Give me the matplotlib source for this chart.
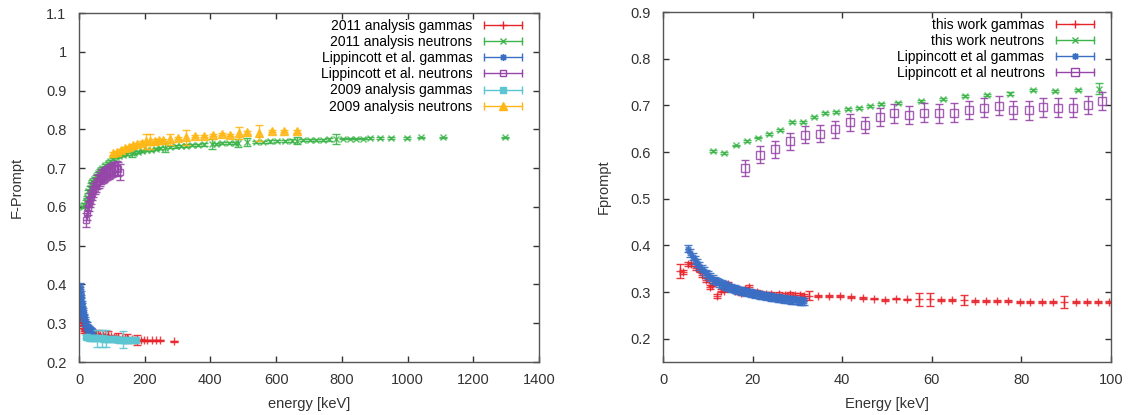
import numpy as np
import matplotlib
matplotlib.use("Agg")
import matplotlib.pyplot as plt
from matplotlib.lines import Line2D
from matplotlib.legend_handler import HandlerLine2D, HandlerTuple
from matplotlib.ticker import FuncFormatter

plt.rcParams['font.family'] = ['Liberation Sans', 'DejaVu Sans']

# ---------------- left panel data (energy [keV], F-Prompt, error) ----------------
g11_x = [1, 2, 3, 5, 8, 11, 14, 18, 22, 26, 30, 35, 40, 46, 52, 59, 65, 72, 80, 89, 96,
         105, 114, 120, 132, 141, 145, 150, 160, 170, 176, 188, 198, 208, 221, 234, 246, 289]
g11_y = [0.330, 0.339, 0.313, 0.322, 0.300, 0.292, 0.280, 0.283, 0.279, 0.277, 0.276, 0.275,
         0.274, 0.273, 0.272, 0.271, 0.270, 0.269, 0.268, 0.267, 0.266, 0.265, 0.264, 0.263,
         0.262, 0.261, 0.261, 0.260, 0.259, 0.258, 0.257, 0.257, 0.256, 0.256, 0.256, 0.256,
         0.256, 0.253]
g11_e = [0.004, 0.004, 0.004, 0.004, 0.004, 0.004, 0.004, 0.003, 0.003, 0.003, 0.008, 0.003,
         0.003, 0.003, 0.003, 0.012, 0.003, 0.003, 0.003, 0.012, 0.003, 0.003, 0.003, 0.012,
         0.003, 0.003, 0.012, 0.003, 0.003, 0.003, 0.012, 0.002, 0.002, 0.002, 0.002, 0.002,
         0.002, 0.002]

n11_x = [12, 16, 20, 24, 28, 32, 36, 41, 46, 52, 58, 64, 71, 79, 87, 95, 104, 113, 123, 134,
         145, 160, 168, 180, 193, 206, 220, 234, 248, 263, 278, 294, 310, 327, 344, 362, 380,
         404, 417, 436, 456, 476, 485, 510, 538, 560, 582, 604, 626, 648, 662, 682, 702, 722,
         742, 762, 782, 804, 824, 844, 865, 885, 915, 951, 997, 1042, 1108, 1296]
n11_y = [0.600, 0.606, 0.615, 0.626, 0.640, 0.650, 0.658, 0.666, 0.672, 0.680, 0.688, 0.695,
         0.701, 0.708, 0.713, 0.718, 0.723, 0.728, 0.731, 0.734, 0.736, 0.738, 0.740, 0.742,
         0.744, 0.746, 0.747, 0.749, 0.751, 0.753, 0.754, 0.756, 0.757, 0.758, 0.759, 0.760,
         0.761, 0.762, 0.763, 0.764, 0.764, 0.765, 0.765, 0.767, 0.767, 0.768, 0.769, 0.770,
         0.770, 0.771, 0.771, 0.772, 0.772, 0.773, 0.773, 0.774, 0.775, 0.776, 0.776, 0.776,
         0.776, 0.777, 0.777, 0.777, 0.778, 0.779, 0.779, 0.779]
n11_e = [0.003, 0.003, 0.004, 0.003, 0.003, 0.003, 0.003, 0.003, 0.003, 0.003, 0.003, 0.003,
         0.003, 0.003, 0.003, 0.003, 0.003, 0.003, 0.003, 0.003, 0.003, 0.010, 0.003, 0.003,
         0.003, 0.003, 0.003, 0.003, 0.003, 0.012, 0.003, 0.003, 0.003, 0.003, 0.003, 0.003,
         0.003, 0.014, 0.003, 0.003, 0.003, 0.003, 0.010, 0.010, 0.003, 0.003, 0.003, 0.003,
         0.003, 0.003, 0.010, 0.003, 0.003, 0.003, 0.003, 0.003, 0.014, 0.002, 0.002, 0.002,
         0.002, 0.002, 0.002, 0.002, 0.002, 0.002, 0.002, 0.002]

lg_l_x = [3, 4, 5, 6, 7, 8, 9, 10, 11, 12, 13, 14, 15, 17, 19, 21, 23, 25, 27, 29, 31, 33,
          35, 37, 39]
lg_l_y = [0.395, 0.385, 0.375, 0.366, 0.358, 0.350, 0.343, 0.337, 0.331, 0.326, 0.321, 0.317,
          0.313, 0.307, 0.302, 0.298, 0.294, 0.291, 0.288, 0.285, 0.283, 0.281, 0.280, 0.279,
          0.278]
lg_l_e = [0.008] * len(lg_l_x)

ln_l_x = [21, 24, 27, 30, 33, 36, 40, 44, 48, 52, 56, 60, 64, 68, 72, 76, 80, 85, 90, 95,
          100, 105, 110, 115, 120, 125]
ln_l_y = [0.566, 0.585, 0.598, 0.607, 0.617, 0.625, 0.635, 0.643, 0.650, 0.656, 0.663, 0.667,
          0.672, 0.676, 0.679, 0.683, 0.686, 0.688, 0.690, 0.693, 0.695, 0.697, 0.699, 0.700,
          0.698, 0.690]
ln_l_e = [0.018, 0.018, 0.018, 0.018, 0.018, 0.018, 0.018, 0.018, 0.018, 0.018, 0.018, 0.018,
          0.018, 0.018, 0.018, 0.018, 0.018, 0.018, 0.018, 0.018, 0.018, 0.018, 0.018, 0.018,
          0.018, 0.020]

g09_x = [20, 25, 30, 35, 40, 45, 50, 54, 60, 69, 72, 81, 84, 90, 96, 102, 108, 114, 120,
         126, 135, 138, 144, 150, 156, 162, 168, 174]
g09_y = [0.265, 0.264, 0.263, 0.263, 0.262, 0.262, 0.262, 0.261, 0.261, 0.261, 0.260, 0.260,
         0.260, 0.260, 0.259, 0.259, 0.259, 0.259, 0.258, 0.258, 0.258, 0.258, 0.257, 0.257,
         0.257, 0.257, 0.256, 0.256]
g09_e = [0.004, 0.004, 0.004, 0.004, 0.004, 0.004, 0.004, 0.022, 0.004, 0.022, 0.004, 0.022,
         0.004, 0.004, 0.004, 0.004, 0.004, 0.004, 0.004, 0.004, 0.022, 0.004, 0.004, 0.004,
         0.004, 0.004, 0.004, 0.004]

n09_x = [104, 115, 127, 140, 153, 165, 178, 192, 203, 216, 231, 244, 257, 277, 301, 326,
         354, 381, 409, 435, 461, 488, 512, 547, 586, 623, 664]
n09_y = [0.738, 0.742, 0.747, 0.751, 0.755, 0.759, 0.762, 0.766, 0.769, 0.769, 0.771, 0.773,
         0.773, 0.774, 0.778, 0.779, 0.782, 0.783, 0.786, 0.788, 0.786, 0.791, 0.792, 0.791,
         0.795, 0.795, 0.795]
n09_e = [0.003, 0.003, 0.003, 0.003, 0.003, 0.003, 0.003, 0.003, 0.020, 0.020, 0.003, 0.003,
         0.003, 0.015, 0.003, 0.020, 0.003, 0.003, 0.003, 0.003, 0.003, 0.015, 0.003, 0.020,
         0.003, 0.003, 0.004]

# ---------------- right panel data (Energy [keV], Fprompt, error) ----------------
gw_x = [3.9, 4.5, 5.6, 6.3, 7.3, 8.2, 8.8, 9.5, 10.4, 11.0, 12.1, 12.9, 13.6, 14.5, 16.0,
        17.3, 18.3, 19.2, 20.1, 20.9, 22.0, 23.1, 24.2, 25.2, 25.9, 27.2, 28.3, 29.4, 30.6,
        31.5, 32.5, 34.7, 37.0, 39.5, 42.0, 44.6, 47.1, 49.6, 52.0, 54.5, 57.2, 59.5, 62.1,
        64.6, 67.1, 69.6, 72.1, 74.6, 77.1, 79.6, 82.0, 84.6, 87.0, 89.6, 92.1, 94.6, 97.0,
        99.6]
gw_y = [0.344, 0.343, 0.360, 0.359, 0.352, 0.346, 0.336, 0.325, 0.311, 0.316, 0.292, 0.303,
        0.303, 0.318, 0.303, 0.298, 0.306, 0.311, 0.298, 0.300, 0.296, 0.296, 0.296, 0.292,
        0.296, 0.294, 0.296, 0.294, 0.294, 0.292, 0.292, 0.291, 0.291, 0.291, 0.289, 0.287,
        0.286, 0.283, 0.286, 0.284, 0.284, 0.284, 0.283, 0.283, 0.283, 0.281, 0.281, 0.281,
        0.280, 0.279, 0.279, 0.279, 0.279, 0.279, 0.279, 0.279, 0.279, 0.278]
gw_e = [0.015, 0.004, 0.004, 0.004, 0.004, 0.004, 0.004, 0.004, 0.004, 0.004, 0.004, 0.004,
        0.004, 0.004, 0.004, 0.004, 0.004, 0.004, 0.004, 0.004, 0.004, 0.004, 0.004, 0.004,
        0.004, 0.004, 0.004, 0.004, 0.004, 0.004, 0.010, 0.002, 0.002, 0.002, 0.002, 0.002,
        0.002, 0.002, 0.002, 0.002, 0.013, 0.013, 0.002, 0.002, 0.010, 0.002, 0.002, 0.002,
        0.002, 0.002, 0.002, 0.002, 0.002, 0.013, 0.002, 0.002, 0.002, 0.002]

nw_x = [11.2, 13.6, 16.2, 18.8, 21.3, 23.7, 26.2, 28.8, 31.2, 33.7, 36.2, 38.7, 41.3, 43.8,
        46.2, 48.7, 52.4, 57.5, 62.4, 67.5, 72.4, 77.5, 82.6, 87.5, 92.6, 97.4]
nw_y = [0.603, 0.598, 0.614, 0.624, 0.631, 0.639, 0.647, 0.665, 0.665, 0.675, 0.684, 0.686,
        0.693, 0.694, 0.698, 0.703, 0.705, 0.709, 0.714, 0.720, 0.722, 0.725, 0.732, 0.731,
        0.733, 0.736]
nw_e = [0.002, 0.002, 0.002, 0.002, 0.002, 0.002, 0.002, 0.002, 0.002, 0.002, 0.002, 0.002,
        0.002, 0.002, 0.002, 0.002, 0.002, 0.002, 0.002, 0.002, 0.003, 0.003, 0.002, 0.002,
        0.002, 0.011]

lg_r_x = [5.6, 6.1, 6.6, 7.1, 7.6, 8.1, 8.6, 9.1, 9.6, 10.1, 10.6, 11.1, 11.6, 12.1, 12.6,
          13.1, 13.6, 14.1, 14.6, 15.1, 15.6, 16.1, 16.6, 17.1, 17.6, 18.1, 18.6, 19.1, 19.6,
          20.1, 20.6, 21.1, 21.6, 22.1, 22.6, 23.1, 23.6, 24.1, 24.6, 25.1, 25.6, 26.1, 26.6,
          27.1, 27.6, 28.1, 28.6, 29.1, 29.6, 30.1, 30.6, 31.1, 31.5]
lg_r_y = [0.393, 0.384, 0.376, 0.369, 0.362, 0.356, 0.350, 0.345, 0.340, 0.336, 0.332, 0.328,
          0.325, 0.322, 0.319, 0.317, 0.315, 0.313, 0.311, 0.309, 0.307, 0.306, 0.304, 0.303,
          0.302, 0.301, 0.300, 0.299, 0.298, 0.297, 0.296, 0.295, 0.294, 0.293, 0.292, 0.291,
          0.290, 0.289, 0.288, 0.288, 0.287, 0.286, 0.286, 0.285, 0.284, 0.284, 0.283, 0.283,
          0.282, 0.282, 0.281, 0.281, 0.280]
lg_r_e = [0.008] * len(lg_r_x)

ln_r_x = [18.4, 21.7, 25.0, 28.4, 31.7, 35.0, 38.4, 41.7, 45.0, 48.4, 51.6, 55.0, 58.3, 61.6,
          64.9, 68.3, 71.6, 74.9, 78.2, 81.6, 84.9, 88.2, 91.5, 94.9, 98.1]
ln_r_y = [0.566, 0.594, 0.606, 0.623, 0.637, 0.639, 0.649, 0.664, 0.658, 0.675, 0.683, 0.679,
          0.684, 0.683, 0.684, 0.690, 0.695, 0.699, 0.690, 0.689, 0.696, 0.695, 0.695, 0.701,
          0.709]
ln_r_e = [0.017, 0.018, 0.018, 0.018, 0.018, 0.018, 0.018, 0.018, 0.018, 0.020, 0.020, 0.020,
          0.020, 0.020, 0.020, 0.020, 0.020, 0.020, 0.020, 0.020, 0.020, 0.020, 0.020, 0.020,
          0.020]

RED = '#e8242b'
GREEN = '#3db54a'
BLUE = '#3a6fc4'
PURPLE = '#9645a8'
CYAN = '#5bc6d2'
ORANGE = '#ffb715'
ASTER = (8, 2, 0)

fig = plt.figure(figsize=(11.28, 4.15), dpi=100)
ax1 = fig.add_axes([79 / 1128, 53 / 415, 460 / 1128, 349 / 415])
ax2 = fig.add_axes([663 / 1128, 53 / 415, 448 / 1128, 350 / 415])


def series(ax, x, y, e, color, marker, ms, mfc=None):
    fc = mfc if mfc is not None else color
    ax.errorbar(x, y, yerr=e, fmt='none', ecolor=color, elinewidth=1.0, capsize=3,
                capthick=1.0, alpha=0.9)
    ax.plot(x, y, ls='none', marker=marker, color=color, ms=ms, mew=1.0, mfc=fc, alpha=0.85)
    cap = Line2D([], [], color=color, lw=1.0, marker='|', ms=6, mew=1.0)
    mk = Line2D([], [], color=color, ls='none', marker=marker, ms=ms, mew=1.0, mfc=fc)
    return (cap, mk)


def style(ax):
    ax.tick_params(direction='in', top=True, right=True, length=4, width=1,
                   labelsize=10.5, colors='#333333', pad=9)
    ax.tick_params(axis='x', pad=8)
    for s in ax.spines.values():
        s.set_color('#555555')
        s.set_linewidth(1.0)
    ax.yaxis.set_major_formatter(FuncFormatter(lambda v, p: '%g' % round(v, 2)))


def legend(ax, handles, labels, xoff):
    hmap = {tuple: HandlerTuple(ndivide=1, pad=0)}
    for cap, mk in handles:
        hmap[cap] = HandlerLine2D(numpoints=2, marker_pad=0)
        hmap[mk] = HandlerLine2D(numpoints=1)
    ax.legend(handles, labels, handler_map=hmap, loc='upper right', frameon=False,
              markerfirst=False, fontsize=10, handlelength=2.8, handletextpad=0.8,
              labelspacing=0.16, borderaxespad=0.25, borderpad=0.15,
              bbox_to_anchor=(xoff, 1.0))


# left panel
h = []
h.append(series(ax1, g11_x, g11_y, g11_e, RED, '+', 6))
h.append(series(ax1, n11_x, n11_y, n11_e, GREEN, 'x', 4))
h.append(series(ax1, lg_l_x, lg_l_y, lg_l_e, BLUE, ASTER, 5))
h.append(series(ax1, ln_l_x, ln_l_y, ln_l_e, PURPLE, 's', 5, mfc='none'))
h.append(series(ax1, g09_x, g09_y, g09_e, CYAN, 's', 5))
h.append(series(ax1, n09_x, n09_y, n09_e, ORANGE, '^', 6))
legend(ax1, h, ['2011 analysis gammas', '2011 analysis neutrons',
                'Lippincott et al. gammas', 'Lippincott et al. neutrons',
                '2009 analysis gammas', '2009 analysis neutrons'], 1 - 11 / 460)
ax1.set_xlim(0, 1400)
ax1.set_ylim(0.2, 1.1)
ax1.set_xticks(np.arange(0, 1401, 200))
ax1.set_yticks(np.arange(0.2, 1.101, 0.1))
style(ax1)
ax1.set_xlabel('energy [keV]', fontsize=10.5, color='#333333', labelpad=7)
ax1.set_ylabel('F-Prompt', fontsize=10.5, color='#333333', labelpad=16)

# right panel
h = []
h.append(series(ax2, gw_x, gw_y, gw_e, RED, '+', 6))
h.append(series(ax2, nw_x, nw_y, nw_e, GREEN, 'x', 4))
h.append(series(ax2, lg_r_x, lg_r_y, lg_r_e, BLUE, ASTER, 5))
h.append(series(ax2, ln_r_x, ln_r_y, ln_r_e, PURPLE, 's', 6, mfc='none'))
legend(ax2, h, ['this work gammas', 'this work neutrons',
                'Lippincott et al gammas', 'Lippincott et al neutrons'], 1 - 11 / 448)
ax2.set_xlim(0, 100)
ax2.set_ylim(0.15, 0.9)
ax2.set_xticks(np.arange(0, 101, 20))
ax2.set_yticks(np.arange(0.2, 0.901, 0.1))
style(ax2)
ax2.set_xlabel('Energy [keV]', fontsize=10.5, color='#333333', labelpad=7)
ax2.set_ylabel('Fprompt', fontsize=10.5, color='#333333', labelpad=14)

fig.savefig('out.png', dpi=100)
